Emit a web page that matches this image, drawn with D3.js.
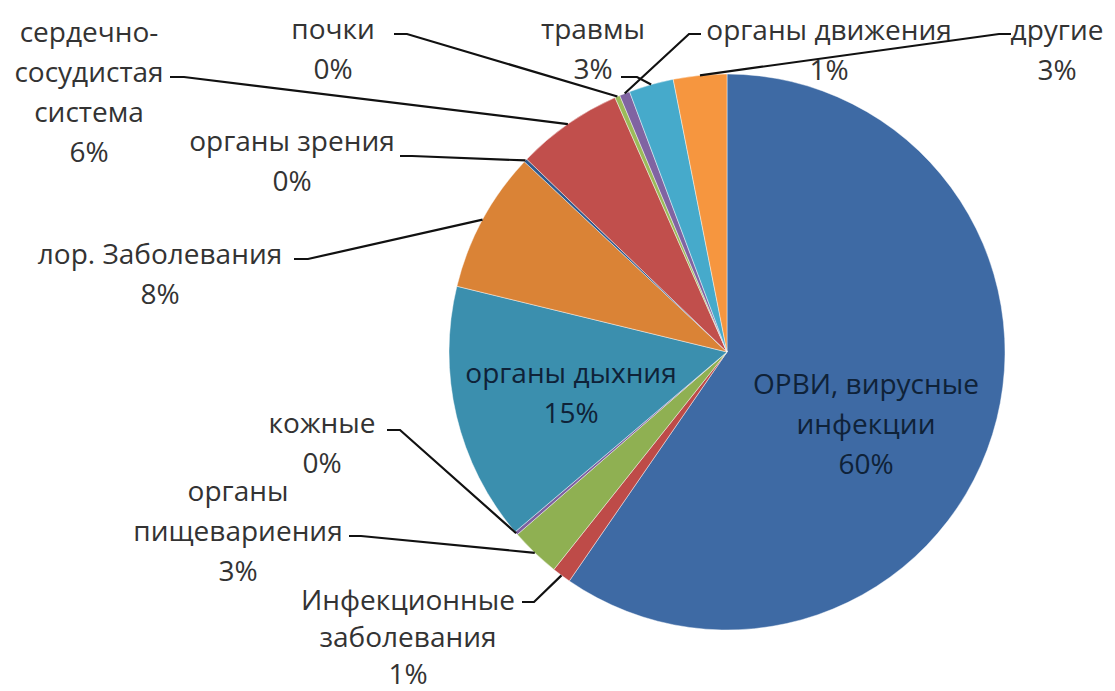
<!DOCTYPE html>
<html><head><meta charset="utf-8">
<script src="https://cdn.jsdelivr.net/npm/d3@7"></script>
<style>html,body{margin:0;background:#fff;overflow:hidden}</style>
</head><body><svg id="c" width="1115" height="691"></svg>
<script>
// ---- data ----
const categories = ["ОРВИ, вирусные\nинфекции", "Инфекционные\nзаболевания", "органы\nпищевариения", "кожные",
  "органы дыхния", "лор. Заболевания", "органы зрения", "сердечно-\nсосудистая\nсистема",
  "почки", "органы движения", "травмы", "другие"];
const values = [59.6, 1.1, 2.9, 0.2, 15.0, 8.2, 0.2, 6.2, 0.3, 0.6, 2.6, 3.1];
const colors = ["#3E6AA4", "#BE4B48", "#8FB052", "#7D60A0", "#3B8FAE", "#DA8336",
  "#2F5A8E", "#C14F4C", "#9BBB59", "#8064A2", "#46AACB", "#F6963F"];

// ---- layout (label placement, not data) ----
const labelLayout = [
  {x: 866, y: 383, inside: true},
  {x: 408, y: 599, ax: 522, ay: 602, dx: 12, lh: 37},
  {x: 238, y: 490, ax: 349, ay: 536, dx: 12},
  {x: 322, y: 422, ax: 387, ay: 430, dx: 13},
  {x: 571, y: 372, inside: true},
  {x: 160, y: 253, ax: 294, ay: 259, dx: 14},
  {x: 292, y: 140, ax: 400, ay: 156, dx: 12},
  {x: 89, y: 31, ax: 170, ay: 77, dx: 14},
  {x: 333, y: 28, ax: 394, ay: 34, dx: 13},
  {x: 829, y: 29, ax: 701, ay: 34, dx: -12},
  {x: 593, y: 28, ax: 621, ay: 77, dx: 16},
  {x: 1057, y: 29, ax: 1011, ay: 34, dx: -12}
];

const svg = d3.select("#c");
const cx = 727, cy = 352, R = 278;
const lineH = 40;
const total = d3.sum(values);
const data = categories.map((c, i) => ({name: c, value: values[i], color: colors[i], lay: labelLayout[i]}));

const pie = d3.pie().value(d => d.value).sort(null).startAngle(0).endAngle(2 * Math.PI);
const arcs = pie(data);
const arc = d3.arc().innerRadius(0).outerRadius(R);
const g = svg.append("g").attr("transform", `translate(${cx},${cy})`);

g.selectAll("path.slice").data(arcs).join("path")
  .attr("class", "slice")
  .attr("d", arc)
  .attr("fill", d => d.data.color)
  .attr("stroke", "rgba(255,255,255,0.55)")
  .attr("stroke-width", 0.8);

// leader lines
const outer = d3.arc().innerRadius(R).outerRadius(R);
arcs.forEach(a => {
  const L = a.data.lay;
  if (L.inside) return;
  const p = outer.centroid(a);
  const pts = [[L.ax, L.ay], [L.ax + L.dx, L.ay], [cx + p[0], cy + p[1]]];
  svg.append("path")
    .attr("d", d3.line()(pts))
    .attr("fill", "none")
    .attr("stroke", "#111")
    .attr("stroke-width", 2.2);
});

// labels
arcs.forEach(a => {
  const L = a.data.lay;
  const pct = Math.round(a.data.value / total * 100) + "%";
  const lines = a.data.name.split("\n").concat([pct]);
  const lh = L.lh || lineH;
  const t = svg.append("text")
    .attr("text-anchor", "middle")
    .attr("font-family", "'Open Sans', 'Noto Sans', sans-serif")
    .attr("font-size", 28)
    .attr("fill", L.inside ? "#0f2238" : "#333");
  lines.forEach((ln, i) => {
    t.append("tspan")
      .attr("x", L.x)
      .attr("y", L.y + i * lh)
      .attr("dominant-baseline", "central")
      .text(ln);
  });
});
</script>
</body></html>
